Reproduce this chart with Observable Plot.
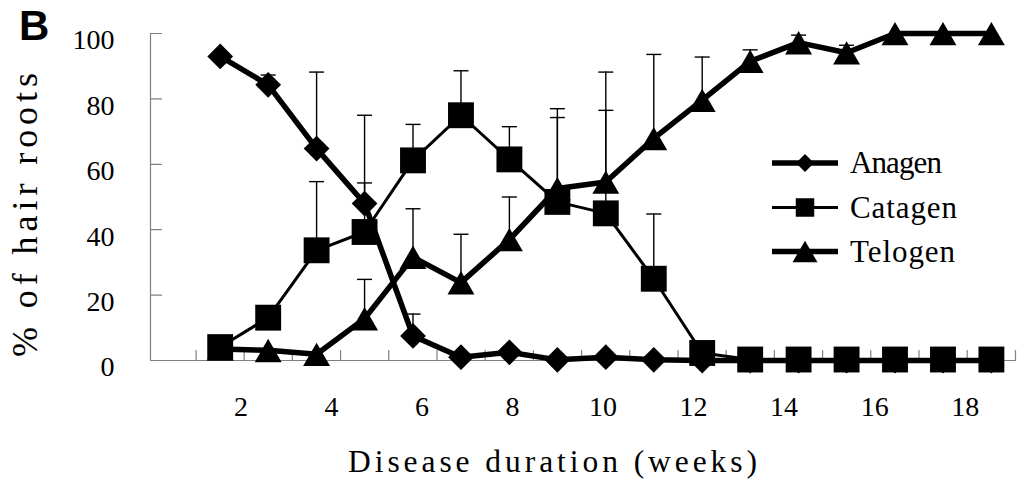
<!DOCTYPE html>
<html><head><meta charset="utf-8">
<script src="https://cdn.jsdelivr.net/npm/d3@7"></script>
<script src="https://cdn.jsdelivr.net/npm/@observablehq/plot@0.6"></script>
<style>
html,body{margin:0;padding:0;background:#fff;}
#wrap{position:relative;width:1017px;height:485px;background:#fff;}
#wrap svg{position:absolute;left:0;top:0;}
</style></head><body><div id="wrap"></div>
<script>
const weeks = [1.54, 2.60, 3.67, 4.73, 5.80, 6.86, 7.93, 8.99, 10.06, 11.12, 12.19, 13.25, 14.32, 15.38, 16.45, 17.51, 18.58];
const anagen    = [93, 84.3, 64.8, 48, 7.5, 1, 2.5, 0.2, 1, 0.2, 0, 0, 0, 0, 0, 0, 0];
const anagenErr = [null, 3, 23.4, 27, 6.7, null, null, null, null, null, null, null, null, null, null, null, null];
const catagen    = [4.1, 13.1, 33.7, 39.3, 61.2, 75, 61.5, 48.5, 45, 25, 2.3, 0.3, 0.3, 0.3, 0.3, 0.3, 0.3];
const catagenErr = [null, null, 21, 15, 11, 13.6, 10, 25.8, 31.5, 19.8, null, null, null, null, null, null, null];
const telogen    = [3.5, 3.1, 1.9, 12.8, 31.6, 23.8, 37, 52.6, 54.6, 67.9, 79.6, 91.5, 97.2, 94.1, 100, 100, 100];
const telogenErr = [null, null, null, 12, 14.8, 14.8, 13, 24.4, 33.6, 25.7, 13.2, 3.5, 2.3, 2.3, null, null, null];
const seriesNames = ["Anagen", "Catagen", "Telogen"];
const yTicks = [0, 20, 40, 60, 80, 100];
const xTicks = [2, 4, 6, 8, 10, 12, 14, 16, 18];
const panelLabel = "B";
const xTitle = "Disease duration (weeks)";
const yTitle = "% of hair roots";

const values = [anagen, catagen, telogen];
const errors = [anagenErr, catagenErr, telogenErr];
const rows = [];
seriesNames.forEach((s, si) => weeks.forEach((w, i) => rows.push({series: s, week: w, value: values[si][i], err: errors[si][i]})));
const errRows = rows.filter(d => d.err != null);

// minor tick marks sit between the measurement points
const step = (weeks[weeks.length - 1] - weeks[0]) / (weeks.length - 1);
const minorTicks = [weeks[0] - step / 2, ...weeks.slice(1).map((w, i) => (w + weeks[i]) / 2), weeks[weeks.length - 1] + step / 2];
const xEnd = minorTicks[minorTicks.length - 1];

const gray = "#808080";
const lineShape = {draw(ctx, l) { ctx.moveTo(0, 0); ctx.lineTo(0, -l); }};
const capSymbol = {draw(ctx, size) { const w = Math.sqrt(size / Math.PI); ctx.moveTo(-w, 0); ctx.lineTo(w, 0); }};
const style = {
  Anagen:  {w: 5.5, symbol: "diamond2", r: 11.6, dy: 0},
  Catagen: {w: 3,   symbol: "square",   r: 14.6, dy: 0},
  Telogen: {w: 5.5, symbol: "triangle", r: 10,   dy: 4}
};
const drawOrder = ["Anagen", "Telogen", "Catagen"];
const serif = "Liberation Serif, Times New Roman, serif";

const marks = [
  Plot.ruleX([0], {stroke: gray, strokeWidth: 1.2}),
  Plot.ruleY([0], {stroke: gray, strokeWidth: 1.2}),
  Plot.vector(yTicks, {y: d => d, frameAnchor: "left", length: 11, rotate: 90, anchor: "start", shape: lineShape, stroke: gray, strokeWidth: 1.2}),
  Plot.vector(minorTicks, {x: d => d, frameAnchor: "bottom", length: 10, rotate: 0, anchor: "start", shape: lineShape, stroke: gray, strokeWidth: 1.2}),
  Plot.axisY({ticks: yTicks, tickSize: 0, tickPadding: 36, dy: 7, fontSize: 28, fontFamily: serif, label: null, fill: "#000"}),
  Plot.axisX({ticks: xTicks, tickSize: 0, tickPadding: 36, fontSize: 28, fontFamily: serif, label: null, fill: "#000"})
];
for (const s of drawOrder) {
  const data = rows.filter(d => d.series === s);
  marks.push(Plot.line(data, {x: "week", y: "value", stroke: "#000", strokeWidth: style[s].w, strokeLinejoin: "round"}));
}
marks.push(Plot.ruleX(errRows, {x: "week", y1: "value", y2: d => d.value + d.err, stroke: "#000", strokeWidth: 1.4}));
marks.push(Plot.dot(errRows, {x: "week", y: d => d.value + d.err, symbol: capSymbol, r: 7.5, stroke: "#000", fill: "none", strokeWidth: 1.4}));
for (const s of drawOrder) {
  const data = rows.filter(d => d.series === s);
  const st = style[s];
  marks.push(Plot.dot(data, {x: "week", y: "value", symbol: st.symbol, r: st.r, dy: st.dy, fill: "#000", stroke: "none"}));
}

const chart = Plot.plot({
  width: 1017, height: 485,
  marginLeft: 150, marginRight: 2, marginTop: 33, marginBottom: 125,
  style: {background: "#fff", color: "#000"},
  x: {domain: [0, xEnd], axis: null},
  y: {domain: [0, 100], axis: null},
  marks
});
const wrap = document.getElementById("wrap");
wrap.appendChild(chart);

// overlay: panel label, axis titles, legend
const ov = d3.select(wrap).append("svg").attr("width", 1017).attr("height", 485).style("pointer-events", "none");
ov.append("text").attr("x", 19).attr("y", 40).attr("font-family", "Liberation Sans, Arial, sans-serif").attr("font-weight", "bold").attr("font-size", 42).text(panelLabel);
ov.append("text").attr("x", 348).attr("y", 472).attr("font-family", serif).attr("font-size", 31.5)
  .attr("textLength", 409).attr("lengthAdjust", "spacing").text(xTitle);
ov.append("text").attr("transform", "translate(37,357) rotate(-90)").attr("font-family", serif).attr("font-size", 36)
  .attr("textLength", 284).attr("lengthAdjust", "spacing").text(yTitle);

const legY = [163, 207.5, 251.5];
const legLen = [92, 107, 105];
const legSym = {
  Anagen:  {type: d3.symbolDiamond2, size: 207, w: 5.5, dy: 0},
  Catagen: {type: d3.symbolSquare,   size: 342, w: 3,   dy: 0},
  Telogen: {type: d3.symbolTriangle, size: 270, w: 5.5, dy: 3.6}
};
seriesNames.forEach((s, i) => {
  const y = legY[i], st = legSym[s];
  const g = ov.append("g");
  g.append("line").attr("x1", 772).attr("x2", 838).attr("y1", y).attr("y2", y).attr("stroke", "#000").attr("stroke-width", st.w);
  g.append("path").attr("transform", `translate(805,${y + st.dy})`).attr("d", d3.symbol(st.type, st.size)()).attr("fill", "#000");
  g.append("text").attr("x", 850).attr("y", y + 10).attr("font-family", serif).attr("font-size", 31)
    .attr("textLength", legLen[i]).attr("lengthAdjust", "spacing").text(s);
});
</script></body></html>
